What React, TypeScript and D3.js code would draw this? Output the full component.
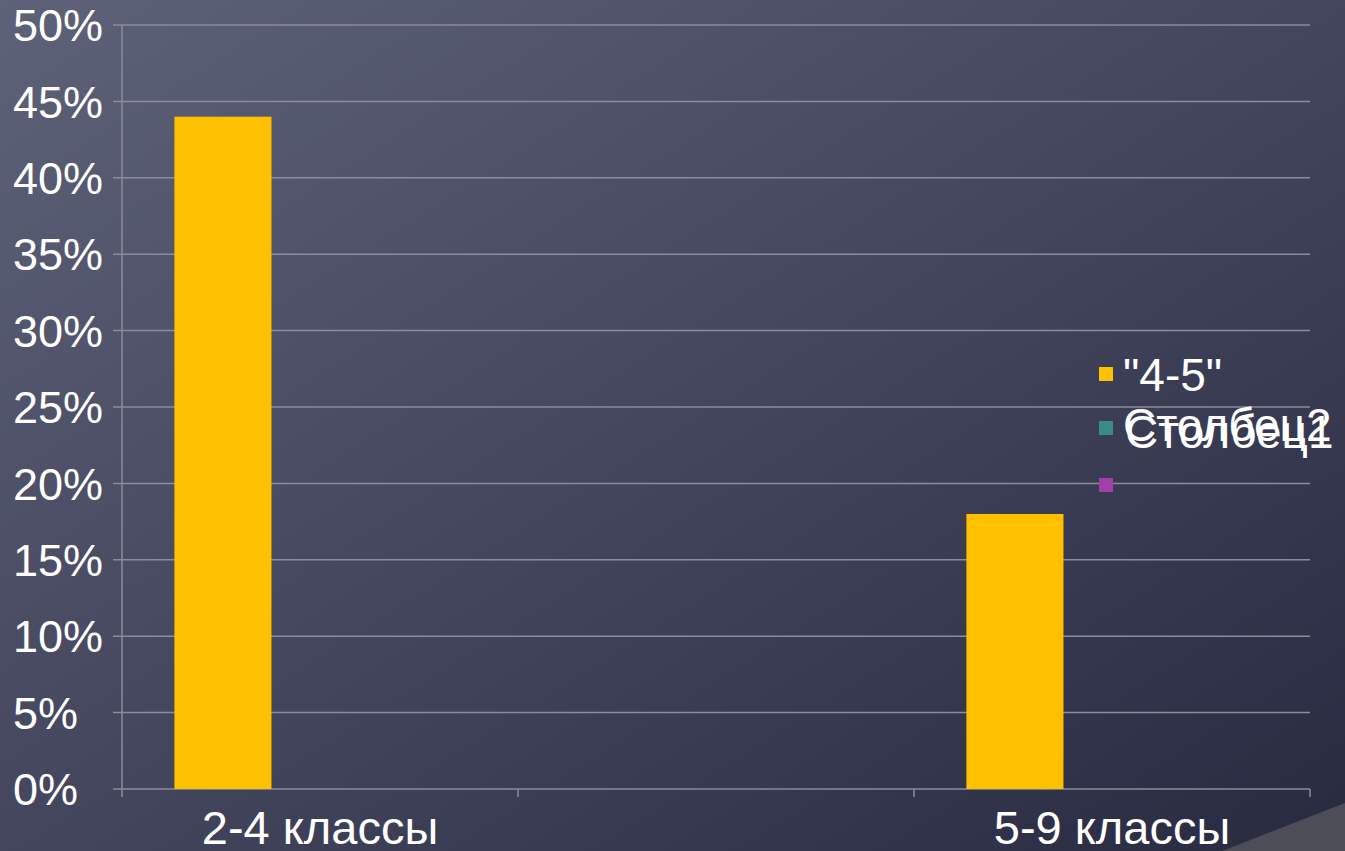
import React from "react";
import * as d3 from "d3";

const categories = ["2-4 классы", "", "5-9 классы"];
const seriesNames = ['"4-5"', "Столбец2", "Столбец1"];
const seriesColors = ["#ffc000", "#3a8a8a", "#a040a8"];
const values4_5 = [0.44, null, 0.18];
const valuesCol2: (number | null)[] = [null, null, null];
const valuesCol1: (number | null)[] = [null, null, null];
const yTicks = [0, 0.05, 0.1, 0.15, 0.2, 0.25, 0.3, 0.35, 0.4, 0.45, 0.5];

const W = 1345;
const H = 851;
const FONT = "'Liberation Sans', Arial, sans-serif";

export default function App() {
  const x = d3.scaleBand<string>().domain(categories).range([122, 1310]).paddingInner(0).paddingOuter(0);
  const xs = d3.scaleBand<string>().domain(seriesNames).range([0, x.bandwidth()]).paddingInner(0).paddingOuter(0.54);
  const y = d3.scaleLinear().domain([0, 0.5]).range([789, 25]);
  const fmt = d3.format(".0%");
  const allSeries = [values4_5, valuesCol2, valuesCol1];
  const boundaries = [...categories.map((c) => x(c) as number), 1310];

  const legendY = [374, 428, 485];
  const legendTextY = [391, 441, 448];
  const legendX = [1123, 1123, 1125];

  return (
    <svg width={W} height={H} style={{ position: "absolute", left: 0, top: 0 }}>
      <defs>
        <linearGradient id="bg" x1="0" y1="0" x2="1" y2="1">
          <stop offset="0" stopColor="#5e6279" />
          <stop offset="0.5" stopColor="#43465d" />
          <stop offset="1" stopColor="#282a40" />
        </linearGradient>
      </defs>
      <rect x={0} y={0} width={W} height={H} fill="url(#bg)" />
      <polygon points={`1222,851 1345,803 1345,851`} fill="#4d4d58" />

      {yTicks.map((t) => (
        <line key={"g" + t} x1={113} x2={1310} y1={y(t)} y2={y(t)} stroke="#8b8d99" strokeWidth={1.5} />
      ))}
      <line x1={122} x2={122} y1={y(0.5)} y2={y(0)} stroke="#8b8d99" strokeWidth={1.5} />
      {boundaries.map((b, i) => (
        <line key={"xt" + i} x1={b} x2={b} y1={y(0)} y2={y(0) + 8} stroke="#8b8d99" strokeWidth={1.5} />
      ))}

      {allSeries.map((vals, si) =>
        vals.map((v, ci) =>
          v == null ? null : (
            <rect
              key={`b${si}-${ci}`}
              x={(x(categories[ci]) as number) + (xs(seriesNames[si]) as number)}
              y={y(v)}
              width={xs.bandwidth()}
              height={y(0) - y(v)}
              fill={seriesColors[si]}
            />
          )
        )
      )}

      {yTicks.map((t) => (
        <text key={"yl" + t} x={13} y={y(t)} dy="0.36em" fill="#ffffff" fontFamily={FONT} fontSize={45}>
          {fmt(t)}
        </text>
      ))}

      {categories.map((c) =>
        c ? (
          <text key={"xl" + c} x={(x(c) as number) + x.bandwidth() / 2} y={844} textAnchor="middle" fill="#ffffff" fontFamily={FONT} fontSize={47}>
            {c}
          </text>
        ) : null
      )}

      {seriesNames.map((l, i) => (
        <g key={"lg" + i}>
          <rect x={1099} y={legendY[i] - 7} width={14} height={14} fill={seriesColors[i]} />
          <text x={legendX[i]} y={legendTextY[i]} fill="#ffffff" fontFamily={FONT} fontSize={46}>
            {l}
          </text>
        </g>
      ))}
    </svg>
  );
}
